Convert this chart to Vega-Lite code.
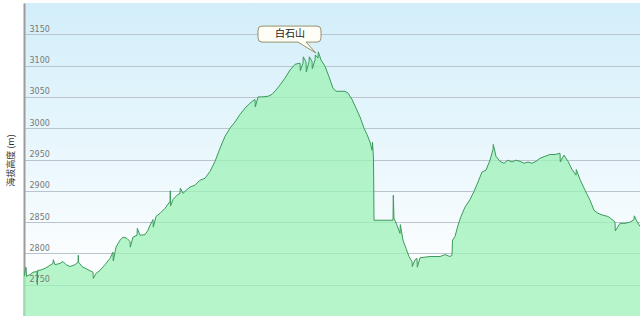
{
  "$schema": "https://vega.github.io/schema/vega-lite/v6.json",
  "width": 616,
  "height": 313,
  "autosize": {"type": "none"},
  "padding": {"left": 24, "top": 3, "right": 0, "bottom": 0},
  "background": "#ffffff",
  "config": {
    "view": {
      "stroke": null,
      "fill": {"gradient": "linear", "x1": 0, "y1": 0, "x2": 0, "y2": 1, "stops": [{"offset": 0, "color": "#d2eefa"}, {"offset": 0.9, "color": "#ffffff"}]}
    }
  },
  "resolve": {"axis": {"y": "independent"}},
  "datasets": {
    "profile": [
      {"d": 0, "elev": 2763}, {"d": 2, "elev": 2778}, {"d": 2.5, "elev": 2763}, {"d": 4, "elev": 2765},
      {"d": 6, "elev": 2766}, {"d": 9, "elev": 2770}, {"d": 13, "elev": 2771}, {"d": 13.3, "elev": 2750},
      {"d": 13.6, "elev": 2773}, {"d": 16, "elev": 2773}, {"d": 21, "elev": 2776}, {"d": 26, "elev": 2781},
      {"d": 29, "elev": 2784}, {"d": 29.3, "elev": 2790}, {"d": 31, "elev": 2782}, {"d": 36, "elev": 2784},
      {"d": 39, "elev": 2787}, {"d": 42, "elev": 2782}, {"d": 46, "elev": 2779}, {"d": 51, "elev": 2782},
      {"d": 54, "elev": 2786}, {"d": 54.3, "elev": 2797}, {"d": 54.6, "elev": 2786}, {"d": 58, "elev": 2779},
      {"d": 64, "elev": 2774}, {"d": 69, "elev": 2770}, {"d": 69.3, "elev": 2760}, {"d": 72, "elev": 2768},
      {"d": 76, "elev": 2773}, {"d": 81, "elev": 2782}, {"d": 86, "elev": 2792}, {"d": 89, "elev": 2802},
      {"d": 89.3, "elev": 2788}, {"d": 92, "elev": 2810}, {"d": 96, "elev": 2821}, {"d": 99, "elev": 2826},
      {"d": 103, "elev": 2824}, {"d": 106, "elev": 2819}, {"d": 106.3, "elev": 2810}, {"d": 109, "elev": 2826},
      {"d": 113, "elev": 2829}, {"d": 113.3, "elev": 2840}, {"d": 116, "elev": 2829}, {"d": 121, "elev": 2830},
      {"d": 124, "elev": 2837}, {"d": 126, "elev": 2845}, {"d": 129, "elev": 2854}, {"d": 129.3, "elev": 2842},
      {"d": 132, "elev": 2859}, {"d": 136, "elev": 2864}, {"d": 141, "elev": 2872}, {"d": 146, "elev": 2883},
      {"d": 146.3, "elev": 2900}, {"d": 146.6, "elev": 2876}, {"d": 149, "elev": 2886}, {"d": 153, "elev": 2893},
      {"d": 156, "elev": 2896}, {"d": 156.3, "elev": 2904}, {"d": 159, "elev": 2896}, {"d": 163, "elev": 2902},
      {"d": 166, "elev": 2906}, {"d": 171, "elev": 2909}, {"d": 176, "elev": 2917}, {"d": 181, "elev": 2920},
      {"d": 186, "elev": 2931}, {"d": 191, "elev": 2947}, {"d": 196, "elev": 2968}, {"d": 201, "elev": 2987},
      {"d": 206, "elev": 3000}, {"d": 211, "elev": 3010}, {"d": 216, "elev": 3022}, {"d": 221, "elev": 3032},
      {"d": 226, "elev": 3040}, {"d": 231, "elev": 3046}, {"d": 231.3, "elev": 3034}, {"d": 234, "elev": 3050},
      {"d": 238, "elev": 3050}, {"d": 244, "elev": 3051}, {"d": 248, "elev": 3054}, {"d": 252, "elev": 3061},
      {"d": 256, "elev": 3069}, {"d": 261, "elev": 3080}, {"d": 266, "elev": 3093}, {"d": 271, "elev": 3102},
      {"d": 276, "elev": 3104}, {"d": 276.3, "elev": 3092}, {"d": 279, "elev": 3104}, {"d": 279.3, "elev": 3114},
      {"d": 282, "elev": 3106}, {"d": 282.3, "elev": 3090}, {"d": 285, "elev": 3106}, {"d": 285.3, "elev": 3114},
      {"d": 288, "elev": 3107}, {"d": 288.3, "elev": 3095}, {"d": 291, "elev": 3109}, {"d": 291.3, "elev": 3117},
      {"d": 294, "elev": 3112}, {"d": 294.3, "elev": 3122}, {"d": 297, "elev": 3109}, {"d": 301, "elev": 3099},
      {"d": 305, "elev": 3082}, {"d": 309, "elev": 3064}, {"d": 312, "elev": 3059}, {"d": 316, "elev": 3059},
      {"d": 321, "elev": 3059}, {"d": 324, "elev": 3056}, {"d": 328, "elev": 3046}, {"d": 332, "elev": 3032},
      {"d": 336, "elev": 3018}, {"d": 340, "elev": 3000}, {"d": 343, "elev": 2990}, {"d": 346, "elev": 2978},
      {"d": 348, "elev": 2965}, {"d": 348.5, "elev": 2978}, {"d": 349.5, "elev": 2952}, {"d": 350, "elev": 2853},
      {"d": 356, "elev": 2853}, {"d": 366, "elev": 2853}, {"d": 369, "elev": 2853}, {"d": 369.3, "elev": 2893},
      {"d": 370, "elev": 2856}, {"d": 373, "elev": 2845}, {"d": 376, "elev": 2832}, {"d": 376.3, "elev": 2846},
      {"d": 379, "elev": 2821}, {"d": 382, "elev": 2808}, {"d": 385, "elev": 2795}, {"d": 388, "elev": 2787},
      {"d": 388.3, "elev": 2779}, {"d": 391, "elev": 2790}, {"d": 393, "elev": 2792}, {"d": 393.3, "elev": 2778},
      {"d": 396, "elev": 2793}, {"d": 406, "elev": 2795}, {"d": 416, "elev": 2795}, {"d": 421, "elev": 2798},
      {"d": 426, "elev": 2795}, {"d": 428, "elev": 2797}, {"d": 428.5, "elev": 2821}, {"d": 431, "elev": 2827},
      {"d": 434, "elev": 2845}, {"d": 437, "elev": 2859}, {"d": 441, "elev": 2874}, {"d": 446, "elev": 2886},
      {"d": 450, "elev": 2899}, {"d": 454, "elev": 2914}, {"d": 458, "elev": 2930}, {"d": 462, "elev": 2933},
      {"d": 466, "elev": 2949}, {"d": 469, "elev": 2966}, {"d": 469.3, "elev": 2974}, {"d": 472, "elev": 2955},
      {"d": 476, "elev": 2947}, {"d": 480, "elev": 2944}, {"d": 484, "elev": 2949}, {"d": 488, "elev": 2946},
      {"d": 492, "elev": 2949}, {"d": 496, "elev": 2947}, {"d": 500, "elev": 2944}, {"d": 504, "elev": 2946},
      {"d": 508, "elev": 2944}, {"d": 512, "elev": 2947}, {"d": 516, "elev": 2952}, {"d": 521, "elev": 2955},
      {"d": 526, "elev": 2958}, {"d": 531, "elev": 2958}, {"d": 536, "elev": 2960}, {"d": 536.3, "elev": 2946},
      {"d": 540, "elev": 2957}, {"d": 544, "elev": 2947}, {"d": 548, "elev": 2934}, {"d": 552, "elev": 2925},
      {"d": 552.3, "elev": 2934}, {"d": 556, "elev": 2918}, {"d": 561, "elev": 2901}, {"d": 566, "elev": 2885},
      {"d": 570, "elev": 2869}, {"d": 574, "elev": 2864}, {"d": 579, "elev": 2861}, {"d": 584, "elev": 2859},
      {"d": 589, "elev": 2853}, {"d": 591, "elev": 2850}, {"d": 591.3, "elev": 2836}, {"d": 596, "elev": 2848},
      {"d": 601, "elev": 2848}, {"d": 606, "elev": 2850}, {"d": 610, "elev": 2854}, {"d": 610.3, "elev": 2860},
      {"d": 613, "elev": 2851}, {"d": 616, "elev": 2843}
    ],
    "peak": [{"d": 292, "elev": 3120, "name": "白石山"}]
  },
  "layer": [
    {
      "data": {"name": "profile"},
      "mark": {"type": "area", "color": "#9ef2b7", "opacity": 0.75, "clip": true, "interpolate": "linear",
        "line": {"color": "#3c9a5c", "strokeWidth": 1, "opacity": 1}},
      "encoding": {
        "x": {"field": "d", "type": "quantitative", "scale": {"domain": [0, 616], "nice": false, "zero": false}, "axis": null},
        "y": {"field": "elev", "type": "quantitative",
          "scale": {"domain": [2700, 3200], "nice": false, "zero": false},
          "axis": {
            "orient": "left", "title": null, "labels": false,
            "values": [2750, 2800, 2850, 2900, 2950, 3000, 3050, 3100, 3150],
            "tickCount": 20, "zindex": 0,
            "grid": true, "gridColor": "#b9c4cc", "gridWidth": 1.2,
            "domain": true, "domainColor": "#9c9c9c", "domainWidth": 2,
            "ticks": false, "tickSize": 0
          }
        }
      }
    },
    {
      "data": {"name": "peak"},
      "mark": {"type": "point", "filled": true, "size": 10000, "fill": "#fffef6", "stroke": "#9a8f6a", "strokeWidth": 1, "opacity": 1,
        "shape": "M-1.08,-0.54 L0.02,-0.54 Q0.1,-0.54 0.1,-0.46 L0.1,-0.3 Q0.1,-0.22 0.02,-0.22 L-0.2,-0.22 L0,0 L-0.36,-0.22 L-1.08,-0.22 Q-1.16,-0.22 -1.16,-0.3 L-1.16,-0.46 Q-1.16,-0.54 -1.08,-0.54 Z"},
      "encoding": {
        "x": {"field": "d", "type": "quantitative"},
        "y": {"field": "elev", "type": "quantitative", "axis": null}
      }
    },
    {
      "data": {"name": "peak"},
      "mark": {"type": "text", "dx": -26, "dy": -19, "align": "center", "baseline": "middle", "font": "Noto Sans CJK SC", "fontSize": 10, "color": "#222222"},
      "encoding": {
        "x": {"field": "d", "type": "quantitative"},
        "y": {"field": "elev", "type": "quantitative",
          "axis": {
            "orient": "left", "title": "海拔高度 (m)",
            "values": [2750, 2800, 2850, 2900, 2950, 3000, 3050, 3100, 3150],
            "tickCount": 20, "zindex": 1,
            "format": "d", "labelOverlap": false, "labelFlush": false, "labelBound": false,
            "grid": false, "domain": false, "ticks": false, "tickSize": 0, "offset": 0,
            "labelAlign": "left", "labelPadding": -5, "labelBaseline": "alphabetic", "labelOffset": -3,
            "labelColor": "#777777", "labelFont": "DejaVu Sans", "labelFontSize": 8,
            "titleFont": "Noto Sans CJK SC", "titleFontSize": 9, "titleFontWeight": "normal", "titleColor": "#333333",
            "titleX": -14, "titleY": 157, "titleAngle": -90, "titleAlign": "center", "titleBaseline": "middle"
          }
        },
        "text": {"field": "name"}
      }
    }
  ]
}
